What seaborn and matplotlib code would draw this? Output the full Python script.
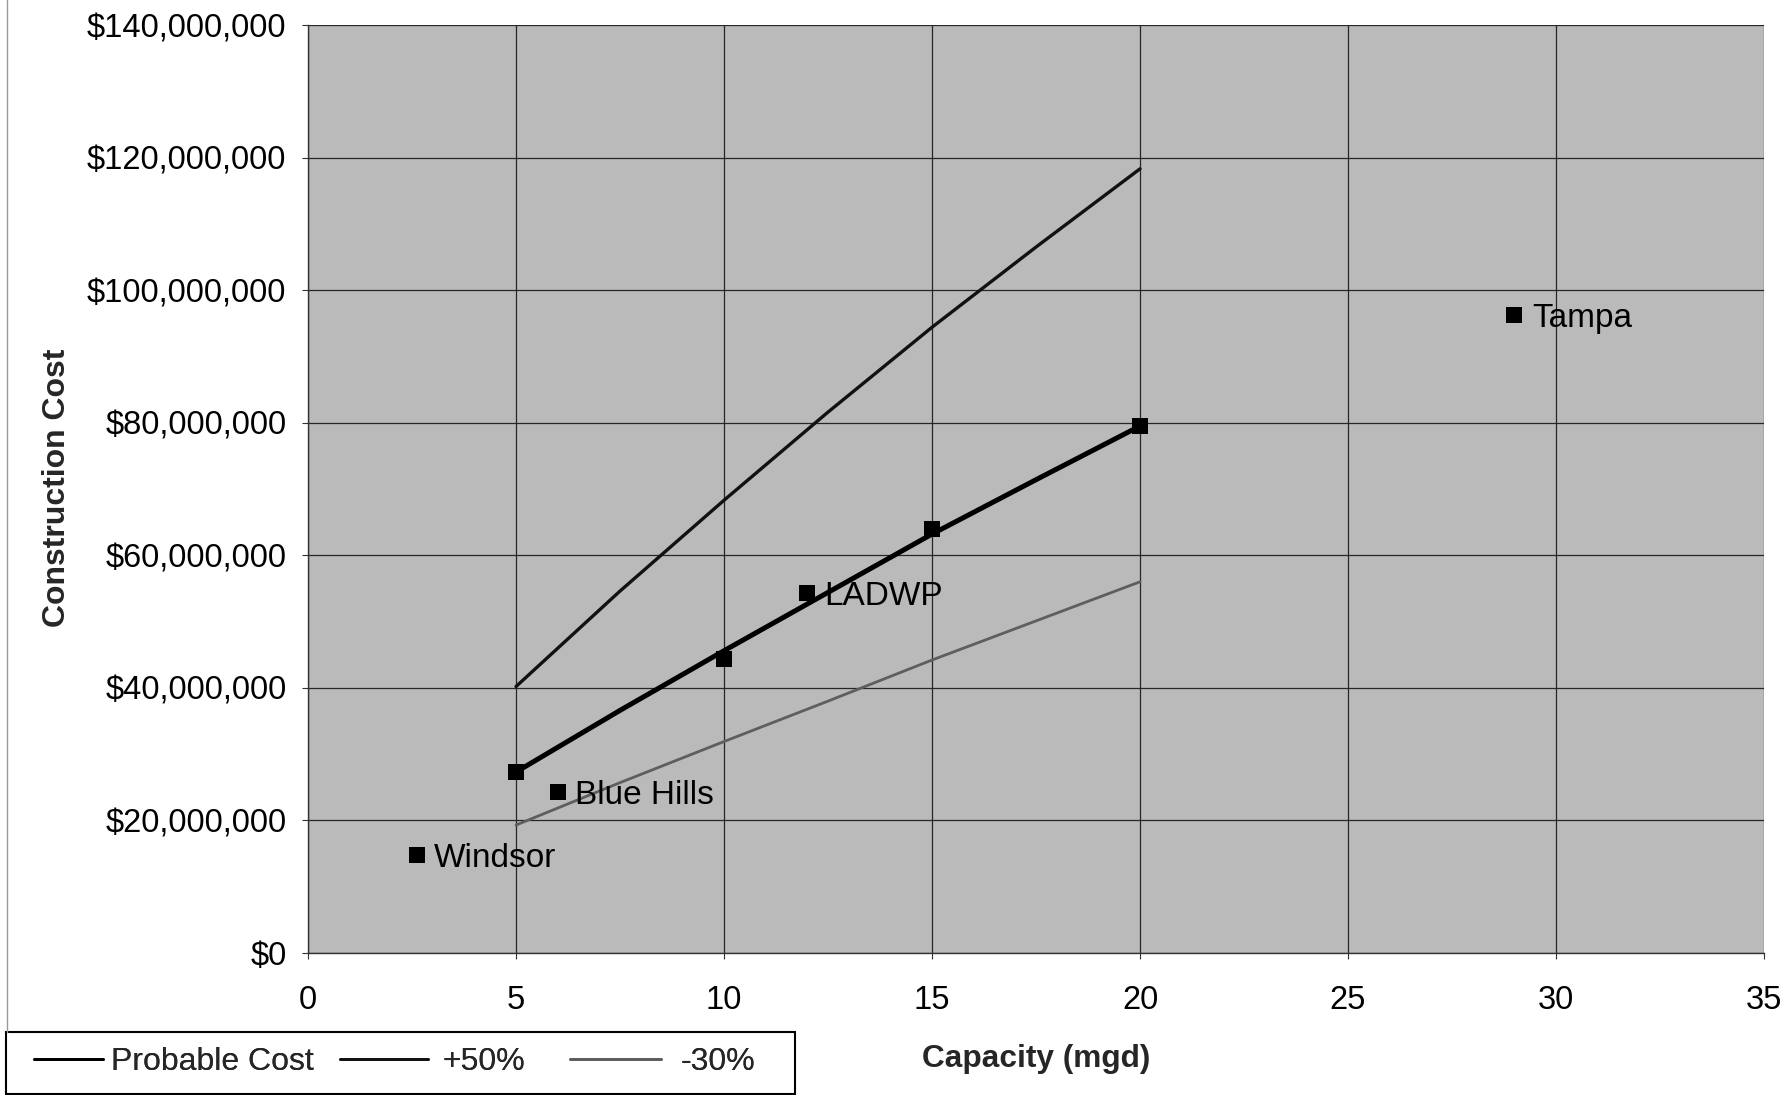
import matplotlib
matplotlib.use("Agg")
import matplotlib.pyplot as plt
from matplotlib.lines import Line2D
from matplotlib.patches import Rectangle
from matplotlib.ticker import FuncFormatter, MultipleLocator
import seaborn as sns
import pandas as pd

# Cost curves (capacity in mgd, cost in $ millions)
curve_capacity = [5, 7.5, 10, 12.5, 15, 17.5, 20]
probable_cost = [27.3, 36.6, 45.6, 54.4, 63.2, 71.4, 79.5]
plus_50 = [40.2, 54.6, 68.3, 81.6, 94.4, 106.5, 118.3]
minus_30 = [19.3, 25.7, 31.9, 38.0, 44.2, 50.1, 56.0]

# Plant data points (capacity in mgd, cost in $ millions)
point_capacity = [5, 10, 15, 20]
point_cost = [27.3, 44.3, 63.9, 79.5]
plant_names = ["Windsor", "Blue Hills", "LADWP", "Tampa"]
plant_capacity = [2.62, 6.0, 12.0, 29.0]
plant_cost = [14.8, 24.3, 54.3, 96.2]

series_names = ["Probable Cost", "+50%", "-30%"]

sns.set_theme(style="white")
plt.rcParams["font.family"] = ["Liberation Sans", "DejaVu Sans"]

W, H = 1788, 1095
fig = plt.figure(figsize=(W / 100, H / 100), dpi=100)
ax = fig.add_axes([308 / W, 1 - 953 / H, (1764 - 308) / W, (953 - 25) / H])
ax.set_facecolor("#bababa")

n = len(curve_capacity)
curves = pd.DataFrame({
    "capacity": curve_capacity * 3,
    "cost": [v * 1e6 for v in probable_cost + plus_50 + minus_30],
    "series": [series_names[0]] * n + [series_names[1]] * n + [series_names[2]] * n,
})
styles = {
    "Probable Cost": dict(color="black", lw=3.6),
    "+50%": dict(color="#111111", lw=2.4),
    "-30%": dict(color="#5e5e5e", lw=2.0),
}
for name in series_names:
    sub = curves[curves["series"] == name]
    sns.lineplot(data=sub, x="capacity", y="cost", ax=ax, label=name,
                 color=styles[name]["color"], linewidth=styles[name]["lw"],
                 zorder=3)

pts = pd.DataFrame({"capacity": point_capacity + plant_capacity,
                    "cost": [v * 1e6 for v in point_cost + plant_cost]})
sns.scatterplot(data=pts, x="capacity", y="cost", ax=ax, marker="s", s=130,
                color="black", edgecolor="black", linewidth=0, zorder=4,
                legend=False)

for name, cx, cy in zip(plant_names, plant_capacity, plant_cost):
    ax.annotate(name, (cx, cy * 1e6), xytext=(12.5, 0), textcoords="offset points",
                ha="left", va="center_baseline", fontsize=24, color="black",
                zorder=5)

ax.set_xlim(0, 35)
ax.set_ylim(0, 140e6)
ax.xaxis.set_major_locator(MultipleLocator(5))
ax.yaxis.set_major_locator(MultipleLocator(20e6))
ax.yaxis.set_major_formatter(FuncFormatter(lambda v, p: "${:,.0f}".format(v)))
ax.grid(True, color="#262626", linewidth=0.9)
ax.set_axisbelow(True)
for side in ["top", "right"]:
    ax.spines[side].set_visible(False)
for side in ["left", "bottom"]:
    ax.spines[side].set_color("#333333")
    ax.spines[side].set_linewidth(1.0)

ax.tick_params(axis="x", which="major", length=4, width=0.8, color="#333333",
               direction="out", pad=19, labelsize=23.5, labelcolor="black", bottom=True)
ax.tick_params(axis="y", which="major", length=4, width=0.8, color="#333333",
               direction="out", pad=11.5, labelsize=23.5, labelcolor="black", left=True)

ax.set_xlabel("")
ax.set_ylabel("")
fig.text(1036 / W, 1 - 1059 / H, "Capacity (mgd)", ha="center", va="center",
         fontsize=22.8, fontweight="bold")
fig.text(57 / W, 1 - 488 / H, "Construction Cost", ha="center", va="center",
         rotation=90, fontsize=23, fontweight="bold")

# Legend: boxed strip along the bottom-left, one entry after another
handles, labels = ax.get_legend_handles_labels()
if ax.get_legend():
    ax.get_legend().remove()
fig.add_artist(Rectangle((6 / W, 1 / H), (795 - 6) / W, (1094 - 1032) / H,
                         transform=fig.transFigure, facecolor="white",
                         edgecolor="black", linewidth=1.5, zorder=1))
entry_x = [34, 340, 570]
entry_handle_len = [2.15, 2.75, 2.85]
entry_text_pad = [0.25, 0.46, 0.6]
for h, lab, x0, hl, tp in zip(handles, labels, entry_x, entry_handle_len, entry_text_pad):
    leg = fig.legend([h], [lab], loc="center left",
                     bbox_to_anchor=(x0 / W, 1 - 1062 / H),
                     bbox_transform=fig.transFigure, fontsize=23, frameon=False,
                     borderpad=0, borderaxespad=0, handlelength=hl,
                     handletextpad=tp)
    for line in leg.get_lines():
        line.set_linewidth(2.0)
    leg.set_zorder(2)
    fig.add_artist(leg)

# faint outer border on the left side
fig.add_artist(Line2D([7 / W, 7 / W], [1 - 1032 / H, 1.0],
                      transform=fig.transFigure, color="#9a9a9a", linewidth=1.0))

fig.savefig("out.png", dpi=100, facecolor="white")
